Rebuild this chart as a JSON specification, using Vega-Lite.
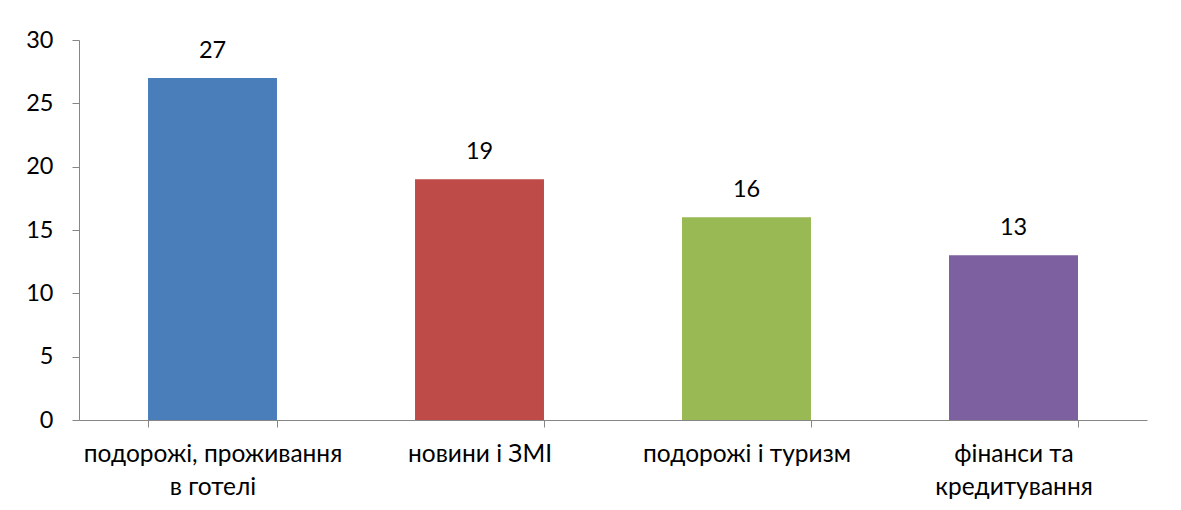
{
  "$schema": "https://vega.github.io/schema/vega-lite/v6.json",
  "width": 1068,
  "height": 380,
  "autosize": {"type": "none"},
  "padding": {"left": 79, "top": 40, "right": 34, "bottom": 90},
  "background": "white",
  "config": {
    "view": {"stroke": null},
    "font": "Lato",
    "axis": {"labelFont": "Lato", "labelColor": "#000000"}
  },
  "data": {
    "values": [
      {"category": "подорожі, проживання в готелі", "value": 27},
      {"category": "новини і ЗМІ", "value": 19},
      {"category": "подорожі і туризм", "value": 16},
      {"category": "фінанси та кредитування", "value": 13}
    ]
  },
  "encoding": {
    "x": {
      "field": "category",
      "type": "nominal",
      "sort": null,
      "scale": {"paddingInner": 0.517, "paddingOuter": 0.2585},
      "axis": {
        "title": null,
        "labelAngle": 0,
        "labelFontSize": 24.5,
        "labelLineHeight": 33,
        "labelPadding": 15,
        "labelLimit": 0,
        "labelBaseline": "top",
        "tickBand": "extent",
        "tickSize": 7,
        "tickColor": "#868686",
        "domainColor": "#868686",
        "domainWidth": 1,
        "labelExpr": "datum.value == 'подорожі, проживання в готелі' ? ['подорожі, проживання', 'в готелі'] : datum.value == 'фінанси та кредитування' ? ['фінанси та', 'кредитування'] : datum.value"
      }
    },
    "y": {
      "field": "value",
      "type": "quantitative",
      "scale": {"domain": [0, 30]},
      "axis": {
        "title": null,
        "values": [0, 5, 10, 15, 20, 25, 30],
        "grid": false,
        "labelFontSize": 23.5,
        "labelPadding": 19,
        "tickSize": 7,
        "tickColor": "#868686",
        "domainColor": "#868686"
      }
    }
  },
  "layer": [
    {
      "mark": {"type": "bar"},
      "encoding": {
        "color": {
          "field": "category",
          "type": "nominal",
          "sort": null,
          "scale": {"range": ["#4A7EBB", "#BE4B48", "#98B954", "#7D60A0"]},
          "legend": null
        }
      }
    },
    {
      "mark": {"type": "text", "fontSize": 23.5, "baseline": "alphabetic", "dy": -20, "color": "#000000"},
      "encoding": {"text": {"field": "value", "type": "quantitative"}}
    }
  ]
}
